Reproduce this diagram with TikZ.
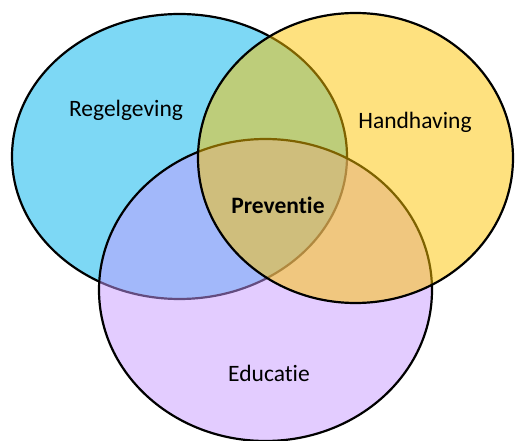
\documentclass[tikz,border=0pt]{standalone}
\usepackage{fontspec}
\setmainfont{Carlito}[Ligatures={NoCommon}]
\usepackage{xcolor}
\usepackage{tikz}
\definecolor{regelblue}{RGB}{125,216,245}
\definecolor{educpurple}{RGB}{199,153,255}
\definecolor{handyellow}{RGB}{253,196,0}

\begin{document}
\begin{tikzpicture}[x=1pt,y=-1pt]

\tikzstyle{setshape} = [draw=black, line width=2.2pt]
\tikzstyle{setlabel} = [font=\fontsize{23.5}{27}\selectfont, text=black]

\useasboundingbox (0,0) rectangle (515,441);

% the three sets
\draw [setshape, fill=regelblue] (179.5,156.5) ellipse [x radius=167.5pt, y radius=142.5pt];
\draw [setshape, fill=educpurple, fill opacity=0.5] (265.5,290) ellipse [x radius=166.5pt, y radius=151pt];
\draw [setshape, fill=handyellow, fill opacity=0.5] (355.5,158) ellipse [x radius=157.5pt, y radius=145pt];

% labels
\node (regelgeving) [setlabel] at (126,110) {Regelgeving};
\node (handhaving) [setlabel] at (415,122) {Handhaving};
\node (educatie) [setlabel] at (269,373) {Educatie};
\node (preventie) [setlabel, font=\fontsize{23.5}{27}\selectfont\bfseries] at (278,205) {Preventie};

\end{tikzpicture}
\end{document}
